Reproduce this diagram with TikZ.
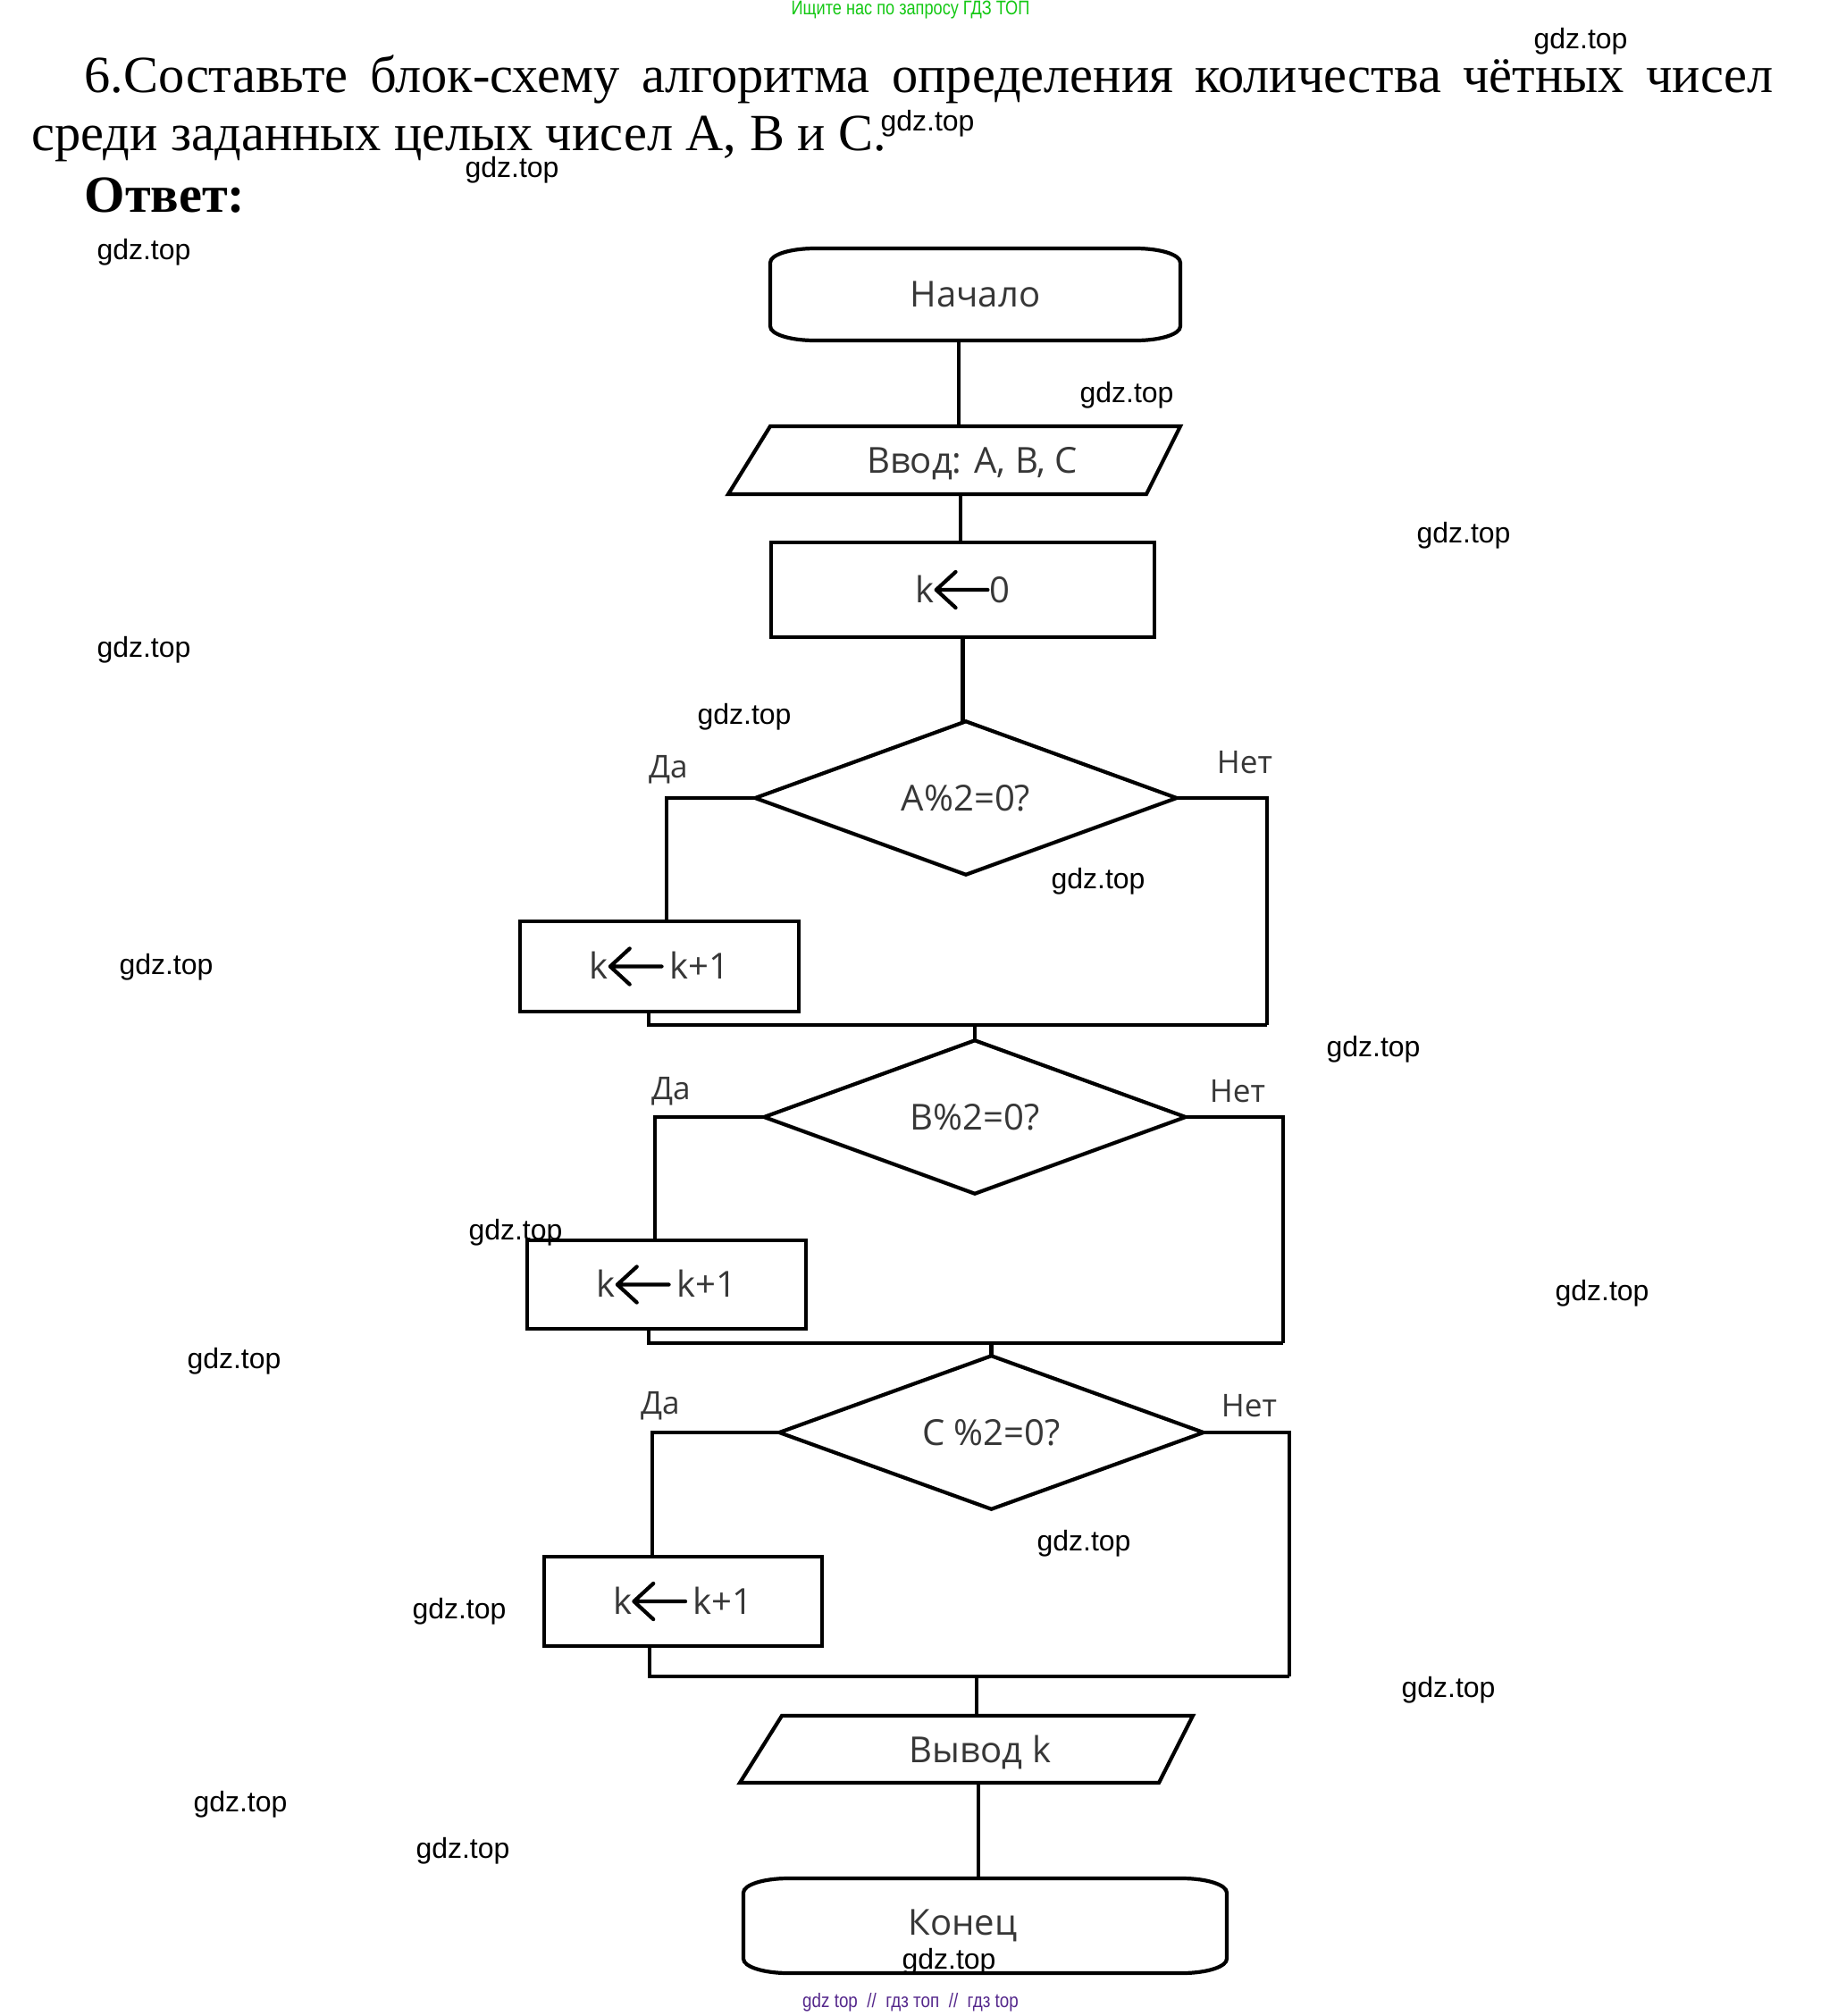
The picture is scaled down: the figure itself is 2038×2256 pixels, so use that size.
\documentclass[tikz,border=0pt]{standalone}
\usepackage{fontspec}
\setmainfont{Liberation Serif}
\newfontfamily\osans{Open Sans}
\newfontfamily\wsans{Liberation Sans}
\definecolor{tgray}{RGB}{55,55,55}
\definecolor{hgreen}{RGB}{20,200,20}
\definecolor{fpurple}{RGB}{85,40,140}
\newcommand{\larr}{\tikz[baseline=0pt]\draw[line width=1.2pt,line cap=round,line join=round,black] (17pt,4.1pt) -- (0.6pt,4.1pt) (6.8pt,9.8pt) -- (0.6pt,4.1pt) -- (6.8pt,-1.6pt);}
\tikzset{
  lw/.style={line width=0.042cm},
  txt/.style={font=\osans\fontsize{11.4}{13}\selectfont, text=tgray},
  blk/.style={txt, rectangle, inner sep=0pt, draw=none},
  procbox/.style={blk, draw=black, lw},
  lbl/.style={font=\osans\fontsize{10}{12}\selectfont, text=tgray, inner sep=0pt, anchor=base},
  wm/.style={font=\wsans\fontsize{9.1}{11}\selectfont, inner sep=0pt, text=black},
  ttl/.style={anchor=base west, inner sep=0pt, font=\fontsize{16.6}{19}\selectfont},
}
\begin{document}
\begin{tikzpicture}[x=0.01cm, y=-0.01cm]
\useasboundingbox (0,0) rectangle (2038,2256);
\fill[white] (0,0) rectangle (2038,2256);

% header / footer
\node[font=\wsans\fontsize{6.3}{7}\selectfont, text=hgreen, inner sep=0pt] (hdr) at (1019,11) {\scalebox{0.82}[1]{Ищите нас по запросу ГДЗ ТОП}};
\node[font=\wsans\fontsize{6.3}{7}\selectfont, text=fpurple, inner sep=0pt] (ftr) at (1019,2241) {\scalebox{0.85}[1]{gdz top\ \ //\ \ гдз топ\ \ //\ \ гдз top}};

% title
\node[ttl] (t1) at (94,103) {\makebox[18.89cm][s]{6.Составьте блок-схему алгоритма определения количества чётных чисел}};
\node[ttl] (t2) at (35,168) {среди заданных целых чисел А, В и С.};
\node[ttl, font=\fontsize{16.6}{19}\selectfont\bfseries] (ans) at (94,237) {Ответ:};

% coordinates for connector x positions
\coordinate (xa) at (1073,0);
\coordinate (xb) at (1075,0);
\coordinate (yA) at (746,0);
\coordinate (yB) at (733,0);
\coordinate (yC) at (730,0);
\coordinate (xj) at (1093,0);
\coordinate (xk) at (1095,0);
\coordinate (mAl) at (726,1147);
\coordinate (mAr) at (1418,1147);
\coordinate (mBl) at (726,1503);
\coordinate (mBr) at (1436,1503);
\coordinate (mCl) at (727,1876);
\coordinate (mCr) at (1443,1876);

% start terminal
\node[blk, minimum width=4.59cm, minimum height=1.03cm] (start) at (1091.5,329.5) {Начало};
\draw[lw] (912,278) -- (1271,278) .. controls (1298.6,278) and (1321,284.9) .. (1321,294) -- (1321,365) .. controls (1321,374.1) and (1298.6,381) .. (1271,381) -- (912,381) .. controls (884.4,381) and (862,374.1) .. (862,365) -- (862,294) .. controls (862,284.9) and (884.4,278) .. (912,278) -- cycle;

% input
\node[blk, text depth=0pt, minimum width=4.64cm, minimum height=0.76cm] (in) at (1068,515) {\hspace*{0.4cm}Ввод: A, B, C};
\draw[lw] (862,477) -- (1321,477) -- (1283,553) -- (815,553) -- cycle;

% init
\node[procbox, minimum width=4.29cm, minimum height=1.06cm] (init) at (1077.5,660) {k\larr0};

% decision A
\node[blk, minimum width=4.70cm, minimum height=1.70cm] (dA) at (1081,893) {A\%2=0?};
\draw[lw] (dA.north) -- (dA.east) -- (dA.south) -- (dA.west) -- cycle;
\node[procbox, minimum width=3.12cm, minimum height=1.01cm] (incA) at (738,1081.5) {k\larr\,k+1};

% decision B
\node[blk, minimum width=4.70cm, minimum height=1.70cm] (dB) at (1091,1250) {B\%2=0?};
\draw[lw] (dB.north) -- (dB.east) -- (dB.south) -- (dB.west) -- cycle;
\node[procbox, minimum width=3.12cm, minimum height=0.99cm] (incB) at (746,1437.5) {k\larr\,k+1};

% decision C
\node[blk, minimum width=4.73cm, minimum height=1.70cm] (dC) at (1109.5,1603) {C \%2=0?};
\draw[lw] (dC.north) -- (dC.east) -- (dC.south) -- (dC.west) -- cycle;
\node[procbox, minimum width=3.11cm, minimum height=1.00cm] (incC) at (764.5,1792) {k\larr\,k+1};

% output
\node[blk, text depth=0pt, minimum width=4.60cm, minimum height=0.75cm] (out) at (1084,1957.5) {\hspace*{0.26cm}Вывод k};
\draw[lw] (875,1920) -- (1335,1920) -- (1297,1995) -- (828,1995) -- cycle;

% end terminal
\node[blk, minimum width=5.41cm, minimum height=1.06cm] (end) at (1102.5,2155) {Конец\hspace*{0.5cm}};
\draw[lw] (882,2102) -- (1323,2102) .. controls (1350.6,2102) and (1373,2109.2) .. (1373,2118) -- (1373,2192) .. controls (1373,2200.8) and (1350.6,2208) .. (1323,2208) -- (882,2208) .. controls (854.4,2208) and (832,2200.8) .. (832,2192) -- (832,2118) .. controls (832,2109.2) and (854.4,2102) .. (882,2102) -- cycle;

% connectors
\draw[lw] (start.south -| xa) -- (in.north -| xa);
\draw[lw] (in.south -| xb) -- (init.north -| xb);
\draw[lw] (init.south) -- (init.south |- dA.north);

\draw[lw] (dA.west) -| (incA.north -| yA);
\draw[lw] (incA.south -| mAl) -- (mAl) -- (mAr);
\draw[lw] (dA.east) -| (mAr);
\draw[lw] (dB.north |- mAl) -- (dB.north);

\draw[lw] (dB.west) -| (incB.north -| yB);
\draw[lw] (incB.south -| mBl) -- (mBl) -- (mBr);
\draw[lw] (dB.east) -| (mBr);
\draw[lw] (dC.north |- mBl) -- (dC.north);

\draw[lw] (dC.west) -| (incC.north -| yC);
\draw[lw] (incC.south -| mCl) -- (mCl) -- (mCr);
\draw[lw] (dC.east) -| (mCr);
\draw[lw] (mCl -| xj) -- (out.north -| xj);
\draw[lw] (out.south -| xk) -- (end.north -| xk);

% branch labels
\node[lbl] (yesA) at (748,870) {Да};
\node[lbl] (noA) at (1393,865) {Нет};
\node[lbl] (yesB) at (751,1230) {Да};
\node[lbl] (noB) at (1385,1233) {Нет};
\node[lbl] (yesC) at (739,1582) {Да};
\node[lbl] (noC) at (1398,1585) {Нет};

% watermarks
\node[wm] (w1) at (1769,46) {gdz.top};
\node[wm] (w2) at (1038,138) {gdz.top};
\node[wm] (w3) at (573,190) {gdz.top};
\node[wm] (w4) at (161,282) {gdz.top};
\node[wm] (w5) at (1261,442) {gdz.top};
\node[wm] (w6) at (1638,599) {gdz.top};
\node[wm] (w7) at (161,727) {gdz.top};
\node[wm] (w8) at (833,802) {gdz.top};
\node[wm] (w9) at (1229,986) {gdz.top};
\node[wm] (w10) at (186,1082) {gdz.top};
\node[wm] (w11) at (1537,1174) {gdz.top};
\node[wm] (w12) at (577,1379) {gdz.top};
\node[wm] (w13) at (1793,1447) {gdz.top};
\node[wm] (w14) at (262,1523) {gdz.top};
\node[wm] (w15) at (1213,1727) {gdz.top};
\node[wm] (w16) at (514,1803) {gdz.top};
\node[wm] (w17) at (1621,1891) {gdz.top};
\node[wm] (w18) at (269,2019) {gdz.top};
\node[wm] (w19) at (518,2071) {gdz.top};
\node[wm] (w20) at (1062,2195) {gdz.top};
\end{tikzpicture}
\end{document}
